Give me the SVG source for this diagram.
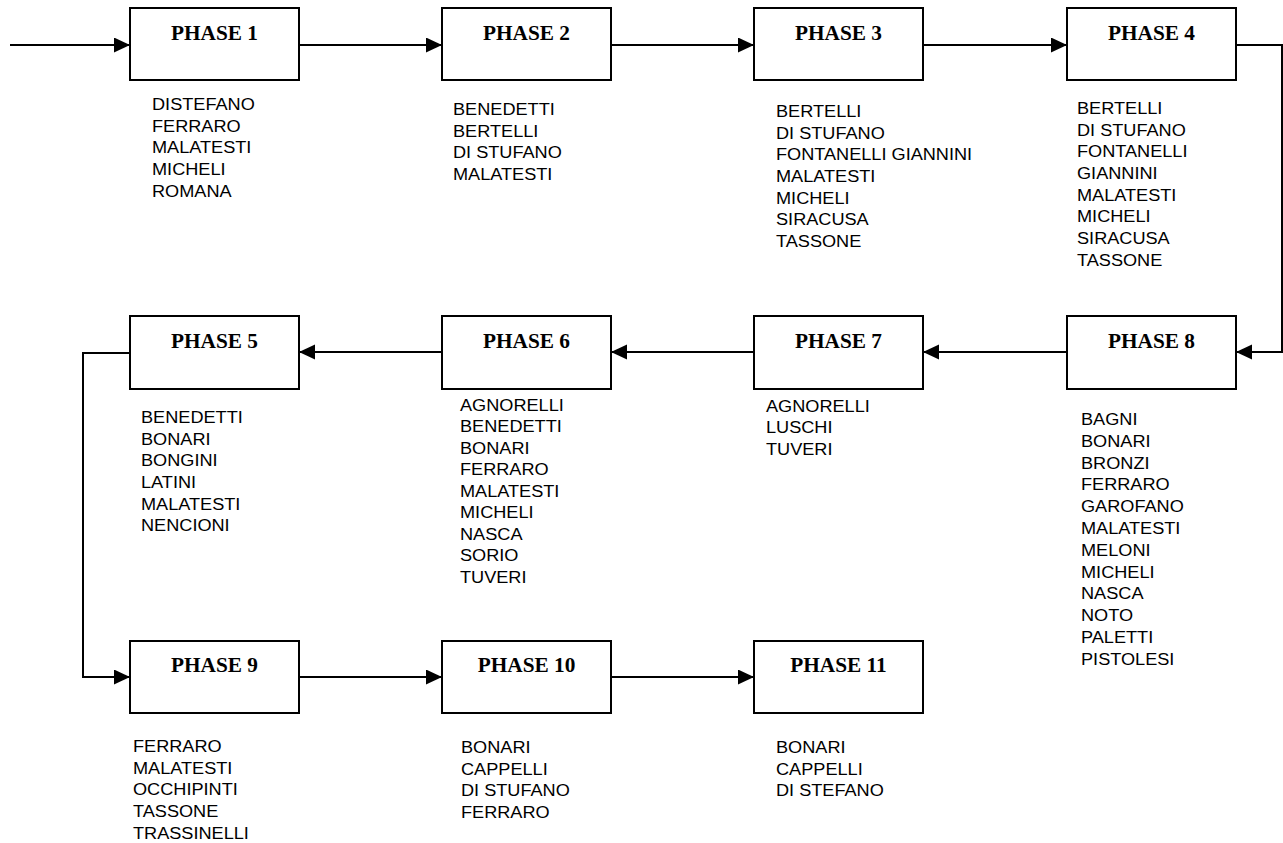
<svg xmlns="http://www.w3.org/2000/svg" width="1283" height="843" viewBox="0 0 1283 843">
<defs>
<marker id="arr" markerUnits="userSpaceOnUse" markerWidth="17" markerHeight="16" refX="16" refY="7.5" orient="auto">
<path d="M0,0 L16,7.5 L0,15 z" fill="#000"/>
</marker>
<style>
.box{fill:#fff;stroke:#000;stroke-width:2}
.title{font-family:"Liberation Serif","Times New Roman",serif;font-weight:bold;font-size:21.3px;text-anchor:middle;fill:#000}
.list{font-family:"Liberation Sans",Arial,sans-serif;font-size:16.5px;fill:#000}
.conn{fill:none;stroke:#000;stroke-width:2}
</style>
</defs>
<rect width="1283" height="843" fill="#fff"/>
<g id="connectors">
<path class="conn" d="M10,45 H130" marker-end="url(#arr)"/>
<path class="conn" d="M299,45 H442" marker-end="url(#arr)"/>
<path class="conn" d="M611,45 H754" marker-end="url(#arr)"/>
<path class="conn" d="M923,45 H1067" marker-end="url(#arr)"/>
<path class="conn" d="M1236,45 H1282 V352 H1236" marker-end="url(#arr)"/>
<path class="conn" d="M1067,352 H923" marker-end="url(#arr)"/>
<path class="conn" d="M754,352 H611" marker-end="url(#arr)"/>
<path class="conn" d="M442,352 H299" marker-end="url(#arr)"/>
<path class="conn" d="M130,353 H83 V677 H130" marker-end="url(#arr)"/>
<path class="conn" d="M299,677 H442" marker-end="url(#arr)"/>
<path class="conn" d="M611,677 H754" marker-end="url(#arr)"/>
</g>
<g id="phase1">
<rect class="box" x="130" y="8" width="169" height="72"/>
<text class="title" x="214.5" y="40">PHASE 1</text>
<text class="list" transform="matrix(1.1 0 0 1 152 110)"><tspan x="0">DISTEFANO</tspan><tspan x="0" dy="21.7">FERRARO</tspan><tspan x="0" dy="21.7">MALATESTI</tspan><tspan x="0" dy="21.7">MICHELI</tspan><tspan x="0" dy="21.7">ROMANA</tspan></text>
</g>
<g id="phase2">
<rect class="box" x="442" y="8" width="169" height="72"/>
<text class="title" x="526.5" y="40">PHASE 2</text>
<text class="list" transform="matrix(1.1 0 0 1 453 115)"><tspan x="0">BENEDETTI</tspan><tspan x="0" dy="21.7">BERTELLI</tspan><tspan x="0" dy="21.7">DI STUFANO</tspan><tspan x="0" dy="21.7">MALATESTI</tspan></text>
</g>
<g id="phase3">
<rect class="box" x="754" y="8" width="169" height="72"/>
<text class="title" x="838.5" y="40">PHASE 3</text>
<text class="list" transform="matrix(1.1 0 0 1 776 117)"><tspan x="0">BERTELLI</tspan><tspan x="0" dy="21.7">DI STUFANO</tspan><tspan x="0" dy="21.7">FONTANELLI GIANNINI</tspan><tspan x="0" dy="21.7">MALATESTI</tspan><tspan x="0" dy="21.7">MICHELI</tspan><tspan x="0" dy="21.7">SIRACUSA</tspan><tspan x="0" dy="21.7">TASSONE</tspan></text>
</g>
<g id="phase4">
<rect class="box" x="1067" y="8" width="169" height="72"/>
<text class="title" x="1151.5" y="40">PHASE 4</text>
<text class="list" transform="matrix(1.1 0 0 1 1077 114)"><tspan x="0">BERTELLI</tspan><tspan x="0" dy="21.7">DI STUFANO</tspan><tspan x="0" dy="21.7">FONTANELLI</tspan><tspan x="0" dy="21.7">GIANNINI</tspan><tspan x="0" dy="21.7">MALATESTI</tspan><tspan x="0" dy="21.7">MICHELI</tspan><tspan x="0" dy="21.7">SIRACUSA</tspan><tspan x="0" dy="21.7">TASSONE</tspan></text>
</g>
<g id="phase5">
<rect class="box" x="130" y="316" width="169" height="73"/>
<text class="title" x="214.5" y="348">PHASE 5</text>
<text class="list" transform="matrix(1.1 0 0 1 141 423)"><tspan x="0">BENEDETTI</tspan><tspan x="0" dy="21.7">BONARI</tspan><tspan x="0" dy="21.7">BONGINI</tspan><tspan x="0" dy="21.7">LATINI</tspan><tspan x="0" dy="21.7">MALATESTI</tspan><tspan x="0" dy="21.7">NENCIONI</tspan></text>
</g>
<g id="phase6">
<rect class="box" x="442" y="316" width="169" height="73"/>
<text class="title" x="526.5" y="348">PHASE 6</text>
<text class="list" transform="matrix(1.1 0 0 1 460 411)"><tspan x="0">AGNORELLI</tspan><tspan x="0" dy="21.5">BENEDETTI</tspan><tspan x="0" dy="21.5">BONARI</tspan><tspan x="0" dy="21.5">FERRARO</tspan><tspan x="0" dy="21.5">MALATESTI</tspan><tspan x="0" dy="21.5">MICHELI</tspan><tspan x="0" dy="21.5">NASCA</tspan><tspan x="0" dy="21.5">SORIO</tspan><tspan x="0" dy="21.5">TUVERI</tspan></text>
</g>
<g id="phase7">
<rect class="box" x="754" y="316" width="169" height="73"/>
<text class="title" x="838.5" y="348">PHASE 7</text>
<text class="list" transform="matrix(1.1 0 0 1 766 412)"><tspan x="0">AGNORELLI</tspan><tspan x="0" dy="21.5">LUSCHI</tspan><tspan x="0" dy="21.5">TUVERI</tspan></text>
</g>
<g id="phase8">
<rect class="box" x="1067" y="316" width="169" height="73"/>
<text class="title" x="1151.5" y="348">PHASE 8</text>
<text class="list" transform="matrix(1.1 0 0 1 1081 425)"><tspan x="0">BAGNI</tspan><tspan x="0" dy="21.8">BONARI</tspan><tspan x="0" dy="21.8">BRONZI</tspan><tspan x="0" dy="21.8">FERRARO</tspan><tspan x="0" dy="21.8">GAROFANO</tspan><tspan x="0" dy="21.8">MALATESTI</tspan><tspan x="0" dy="21.8">MELONI</tspan><tspan x="0" dy="21.8">MICHELI</tspan><tspan x="0" dy="21.8">NASCA</tspan><tspan x="0" dy="21.8">NOTO</tspan><tspan x="0" dy="21.8">PALETTI</tspan><tspan x="0" dy="21.8">PISTOLESI</tspan></text>
</g>
<g id="phase9">
<rect class="box" x="130" y="641" width="169" height="72"/>
<text class="title" x="214.5" y="672">PHASE 9</text>
<text class="list" transform="matrix(1.1 0 0 1 133 752)"><tspan x="0">FERRARO</tspan><tspan x="0" dy="21.7">MALATESTI</tspan><tspan x="0" dy="21.7">OCCHIPINTI</tspan><tspan x="0" dy="21.7">TASSONE</tspan><tspan x="0" dy="21.7">TRASSINELLI</tspan></text>
</g>
<g id="phase10">
<rect class="box" x="442" y="641" width="169" height="72"/>
<text class="title" x="526.5" y="672">PHASE 10</text>
<text class="list" transform="matrix(1.1 0 0 1 461 753)"><tspan x="0">BONARI</tspan><tspan x="0" dy="21.7">CAPPELLI</tspan><tspan x="0" dy="21.7">DI STUFANO</tspan><tspan x="0" dy="21.7">FERRARO</tspan></text>
</g>
<g id="phase11">
<rect class="box" x="754" y="641" width="169" height="72"/>
<text class="title" x="838.5" y="672">PHASE 11</text>
<text class="list" transform="matrix(1.1 0 0 1 776 753)"><tspan x="0">BONARI</tspan><tspan x="0" dy="21.7">CAPPELLI</tspan><tspan x="0" dy="21.7">DI STEFANO</tspan></text>
</g>
</svg>
